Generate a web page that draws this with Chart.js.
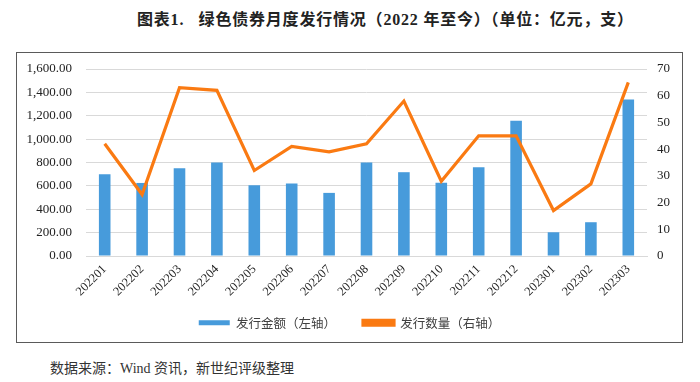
<!DOCTYPE html>
<html>
<head>
<meta charset="utf-8">
<script src="https://cdn.jsdelivr.net/npm/chart.js@4"></script>
<style>
  html, body { margin: 0; padding: 0; background: #fff; width: 700px; height: 382px; overflow: hidden; }
  #title { position: absolute; left: 137px; top: 6px; font-family: "Liberation Serif", "Noto Sans CJK SC", serif; font-weight: bold; font-size: 16px; letter-spacing: 0.8px; color: #222; white-space: pre; }
  #box { position: absolute; left: 16px; top: 52px; width: 665px; height: 289px; border: 1.5px solid #5a5a5a; }
  #source { position: absolute; left: 50px; top: 357px; font-family: "Liberation Serif", "Noto Sans CJK SC", serif; font-size: 14px; color: #333; }
  canvas { display: block; }
</style>
</head>
<body>
<div id="title">图表1.   绿色债券月度发行情况（2022 年至今）（单位：亿元，支）</div>
<div id="box"><canvas id="c" width="665" height="289"></canvas></div>
<div id="source">数据来源：Wind 资讯，新世纪评级整理</div>
<script>
const categories = ["202201","202202","202203","202204","202205","202206","202207","202208","202209","202210","202211","202212","202301","202302","202303"];
const amountValues = [700, 625, 750, 800, 605, 620, 540, 800, 717, 626, 760, 1157, 203, 289, 1340];
const countValues = [42, 23, 63, 62, 32, 41, 39, 42, 58, 28, 45, 45, 17, 27, 65];
const leftTicks = [0, 200, 400, 600, 800, 1000, 1200, 1400, 1600];
const rightTicks = [0, 10, 20, 30, 40, 50, 60, 70];
const amountLabel = "发行金额（左轴）";
const countLabel = "发行数量（右轴）";

const BLUE = "#479BDB";
const ORANGE = "#FA7A12";
const tickFont = { family: "Liberation Serif", size: 13 };

function noPad(s) { s.paddingTop = 0; s.paddingBottom = 0; s.paddingLeft = 0; s.paddingRight = 0; }

new Chart(document.getElementById("c"), {
  data: {
    labels: categories,
    datasets: [
      { type: "line", label: countLabel, data: countValues, yAxisID: "y1",
        borderColor: ORANGE, backgroundColor: ORANGE, borderWidth: 3.2,
        pointRadius: 0, tension: 0, order: 0 },
      { type: "bar", label: amountLabel, data: amountValues, yAxisID: "y",
        backgroundColor: BLUE, borderWidth: 0,
        barPercentage: 0.31, categoryPercentage: 1.0, order: 1 }
    ]
  },
  options: {
    responsive: false,
    animation: false,
    layout: { padding: { top: 16, bottom: 3, left: 0, right: 0 } },
    plugins: {
      legend: {
        position: "bottom",
        reverse: true,
        labels: {
          boxWidth: 31, boxHeight: 5, padding: 27,
          color: "#404040",
          font: { family: "Noto Sans CJK SC", size: 12.5 }
        }
      },
      tooltip: { enabled: false }
    },
    scales: {
      x: {
        grid: { display: false, drawTicks: false },
        border: { display: true, color: "#D9D9D9", width: 1 },
        ticks: { minRotation: 45, maxRotation: 45, color: "#222", font: { family: "Liberation Serif", size: 12.5 }, padding: 6 },
        afterFit: (s) => { s.height = 33.5; noPad(s); s._computeLabelArea = () => undefined; }
      },
      y: {
        position: "left",
        min: 0, max: 1600,
        afterBuildTicks: (s) => { s.ticks = leftTicks.map(v => ({ value: v })); },
        grid: { color: "#D9D9D9", lineWidth: 1, drawTicks: false },
        border: { display: false },
        ticks: { color: "#222", font: tickFont, padding: 14,
          callback: (v) => Number(v).toLocaleString("en-US", { minimumFractionDigits: 2, maximumFractionDigits: 2 }) },
        afterFit: (s) => { s.width = 69; noPad(s); }
      },
      y1: {
        position: "right",
        min: 0, max: 70,
        afterBuildTicks: (s) => { s.ticks = rightTicks.map(v => ({ value: v })); },
        grid: { display: false, drawTicks: false },
        border: { display: false },
        ticks: { color: "#222", font: tickFont, padding: 10 },
        afterFit: (s) => { s.width = 35; noPad(s); }
      }
    }
  }
});
</script>
</body>
</html>
